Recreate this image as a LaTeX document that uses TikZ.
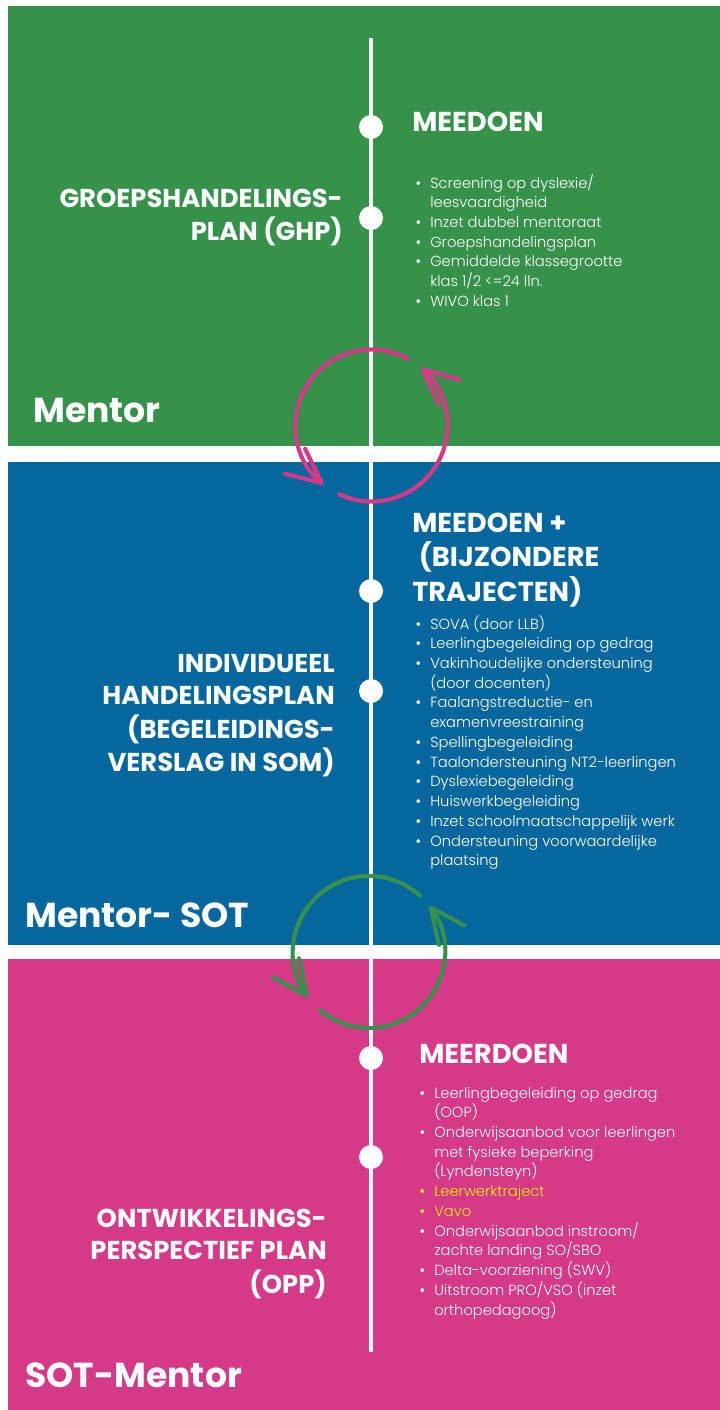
\documentclass[tikz,border=0pt]{standalone}
\usepackage{fontspec}
\setmainfont{Poppins}
\newfontfamily\lightfont{Poppins Light}
\usepackage{tikz}
\usetikzlibrary{arrows.meta}

\definecolor{ghpgreen}{RGB}{54,146,74}
\definecolor{ihpblue}{RGB}{6,102,158}
\definecolor{opppink}{RGB}{214,57,135}
\definecolor{markyellow}{RGB}{255,242,0}

\newcommand{\kop}{\fontsize{20.5}{24.5}\selectfont\bfseries}
\newcommand{\plankop}{\fontsize{19.4}{24.5}\selectfont\bfseries}
\newcommand{\rolkop}{\fontsize{26}{30}\selectfont\bfseries}
\newcommand{\lijst}{\lightfont\fontsize{11}{14.8}\selectfont}
\newcommand{\bol}{\makebox[11.25pt][l]{\normalfont\textbullet}}

\tikzset{
  dot/.style={circle,fill=white,minimum size=18pt,inner sep=0pt},
  cyclearrow/.style={line width=3.1pt,line cap=round,-{Straight Barb[length=26pt,width=24pt,round]}},
  tekst/.style={inner sep=0pt,text=white}
}

\begin{document}
\begin{tikzpicture}[x=0.75pt,y=0.75pt,yscale=-1,xscale=1]
\path[use as bounding box] (0,0) rectangle (720,1410);

%Shape: Rectangle [id:ghp]
\fill[ghpgreen] (8,5.5) rectangle (720,446);
%Shape: Rectangle [id:ihp]
\fill[ihpblue] (8,462) rectangle (720,945);
%Shape: Rectangle [id:opp]
\fill[opppink] (8,959) rectangle (720,1410);

%Straight Lines [id:tijdlijn]
\coordinate (linetop) at (371,38);
\coordinate (linebottom) at (371,1352);
\draw[white,line width=3pt] (linetop) -- (linebottom);

%Shape: Circle [id:dots]
\draw (371,127) node (dot1) [dot] {};
\draw (371,218) node (dot2) [dot] {};
\draw (371,591) node (dot3) [dot] {};
\draw (371,691) node (dot4) [dot] {};
\draw (371,1058) node (dot5) [dot] {};
\draw (371,1157) node (dot6) [dot] {};

%Shape: Arc [id:cyclus1]
\coordinate (cyc1) at (371.5,425.5);
\draw[cyclearrow,draw=opppink] (cyc1) ++(-61.6:76) arc[start angle=-61.6,end angle=-230.8,radius=76];
\draw[cyclearrow,draw=opppink] (cyc1) ++(-245:76) arc[start angle=-245,end angle=-409.2,radius=76];
%Shape: Arc [id:cyclus2]
\coordinate (cyc2) at (369,952);
\draw[cyclearrow,draw=ghpgreen] (cyc2) ++(-47.7:76) arc[start angle=-47.7,end angle=-216.6,radius=76];
\draw[cyclearrow,draw=ghpgreen] (cyc2) ++(-230:76) arc[start angle=-230,end angle=-397.3,radius=76];

% Text Node
\draw (412,131) node (meedoen) [anchor=base west][tekst] [font=\kop] {MEEDOEN};
% Text Node
\draw (415,188) node (ghplijst) [anchor=base west][tekst] [font=\lijst] {\begin{tabular}[t]{@{}l@{}l@{}}
\bol & Screening op dyslexie/\\
 & leesvaardigheid\\
\bol & Inzet dubbel mentoraat\\
\bol & Groepshandelingsplan\\
\bol & Gemiddelde klassegrootte\\
 & klas 1/2 <=24 lln.\\
\bol & WIVO klas 1
\end{tabular}};
% Text Node
\draw (343,207) node (ghp) [anchor=base east][tekst] [font=\plankop] {\begin{tabular}[t]{@{}r@{}}
GROEPSHANDELINGS-\\
PLAN (GHP)
\end{tabular}};
% Text Node
\draw (33,422) node (mentor) [anchor=base west][tekst] [font=\rolkop] {Mentor};

% Text Node
\draw (412,532) node (meedoenplus) [anchor=base west][tekst] [font=\kop] {\begin{tabular}[t]{@{}l@{}}
MEEDOEN +\\
\hspace*{5pt}(BIJZONDERE\\
TRAJECTEN)
\end{tabular}};
% Text Node
\draw (415,629) node (ihplijst) [anchor=base west][tekst] [font=\lijst] {\begin{tabular}[t]{@{}l@{}l@{}}
\bol & SOVA (door LLB)\\
\bol & Leerlingbegeleiding op gedrag\\
\bol & Vakinhoudelijke ondersteuning\\
 & (door docenten)\\
\bol & Faalangstreductie- en\\
 & examenvreestraining\\
\bol & Spellingbegeleiding\\
\bol & Taalondersteuning NT2-leerlingen\\
\bol & Dyslexiebegeleiding\\
\bol & Huiswerkbegeleiding\\
\bol & Inzet schoolmaatschappelijk werk\\
\bol & Ondersteuning voorwaardelijke\\
 & plaatsing
\end{tabular}};
% Text Node
\draw (335,672) node (ihp) [anchor=base east][tekst] [font=\plankop] {\begin{tabular}[t]{@{}r@{}}
INDIVIDUEEL\\
HANDELINGSPLAN\\
(BEGELEIDINGS-\\
VERSLAG IN SOM)
\end{tabular}};
% Text Node
\draw (25,927) node (mentorsot) [anchor=base west][tekst] [font=\rolkop] {Mentor- SOT};

% Text Node
\draw (419,1063) node (meerdoen) [anchor=base west][tekst] [font=\kop] {MEERDOEN};
% Text Node
\draw (419,1098) node (opplijst) [anchor=base west][tekst] [font=\lijst] {\begin{tabular}[t]{@{}l@{}l@{}}
\bol & Leerlingbegeleiding op gedrag\\
 & (OOP)\\
\bol & Onderwijsaanbod voor leerlingen\\
 & met fysieke beperking\\
 & (Lyndensteyn)\\
\color{markyellow}\bol & \color{markyellow}Leerwerktraject\\
\color{markyellow}\bol & \color{markyellow}Vavo\\
\bol & Onderwijsaanbod instroom/\\
 & zachte landing SO/SBO\\
\bol & Delta-voorziening (SWV)\\
\bol & Uitstroom PRO/VSO (inzet\\
 & orthopedagoog)
\end{tabular}};
% Text Node
\draw (327,1227) node (opp) [anchor=base east][tekst] [font=\plankop] {\begin{tabular}[t]{@{}r@{}}
ONTWIKKELINGS-\\
PERSPECTIEF PLAN\\
(OPP)
\end{tabular}};
% Text Node
\draw (25,1387) node (sotmentor) [anchor=base west][tekst] [font=\rolkop] {SOT-Mentor};

\end{tikzpicture}
\end{document}
